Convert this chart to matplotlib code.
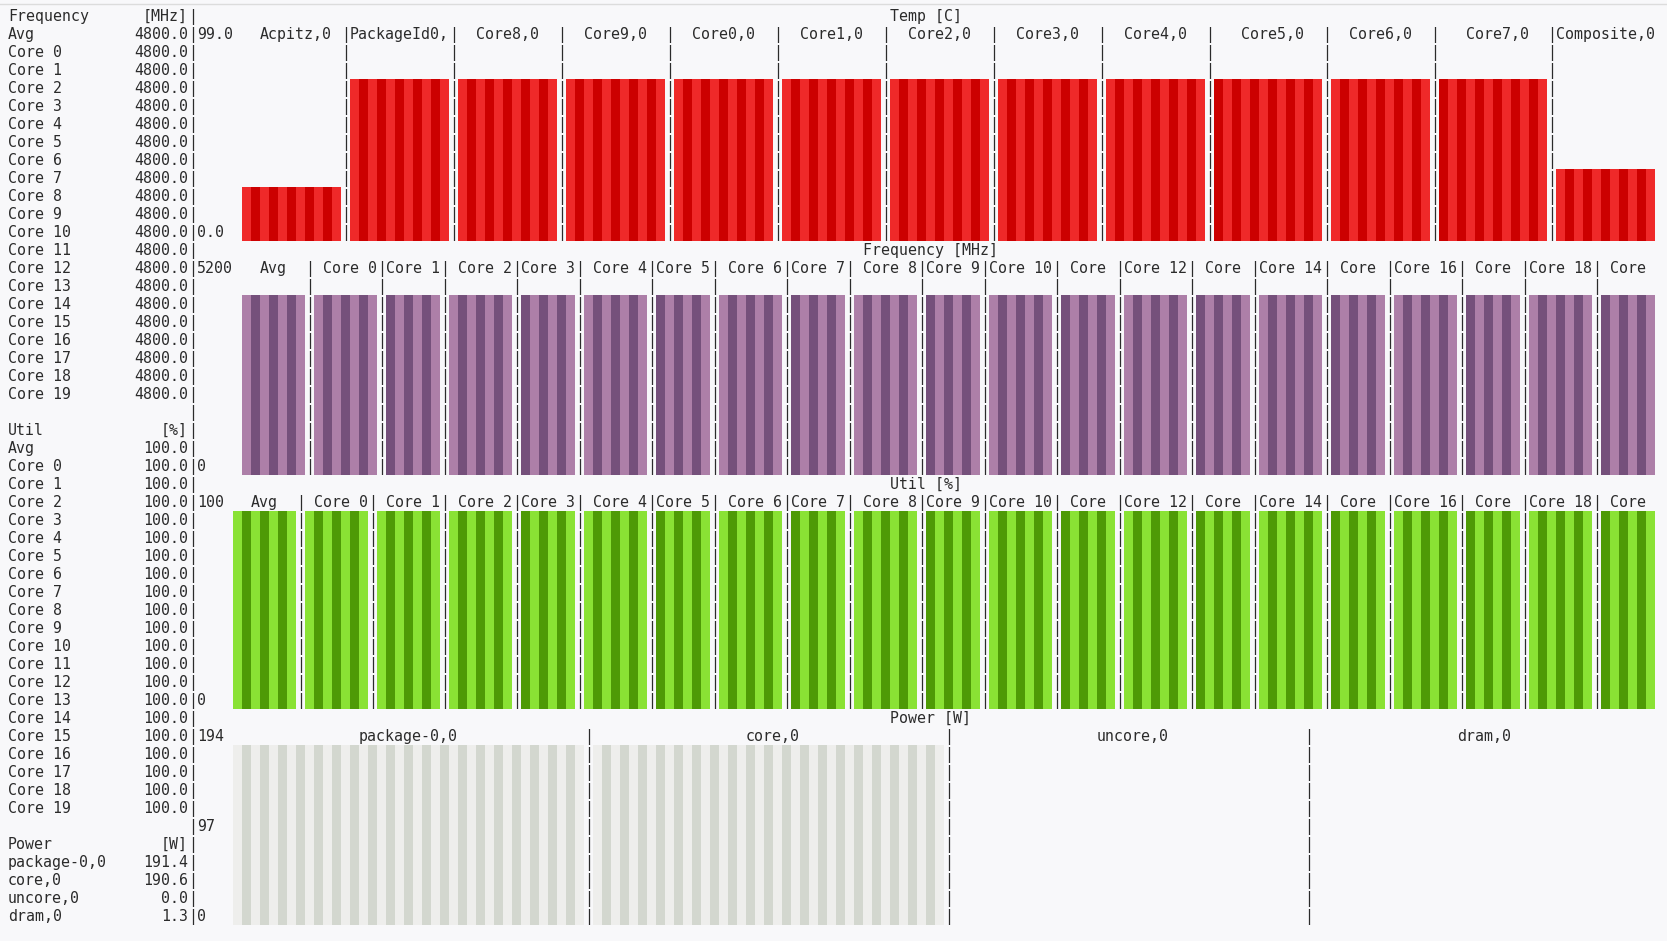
"""s-tui style terminal dashboard (temp / frequency / util / power) redrawn with matplotlib.

The screen is a character grid: 9 px per column, 18 px per row. Everything is
placed in cell coordinates; each bar graph gets its own axes whose y scale runs
from 0 to the graph's maximum.
"""
import math

import matplotlib

matplotlib.use("Agg")
import matplotlib.pyplot as plt
import numpy as np

# ---------------------------------------------------------------- data
TEMP_SENSORS = ["Acpitz,0", "PackageId0,0", "Core8,0", "Core9,0", "Core0,0",
                "Core1,0", "Core2,0", "Core3,0", "Core4,0", "Core5,0",
                "Core6,0", "Core7,0", "Composite,0"]
TEMP_VALUES = [27.0, 81.0, 81.0, 81.0, 81.0, 81.0, 81.0, 81.0, 81.0, 81.0,
               81.0, 81.0, 36.0]
TEMP_MAX = 99.0
TEMP_TICKS = ["99.0", "0.0"]

CPU_LABELS = ["Avg", "Core 0", "Core 1", "Core 2", "Core 3", "Core 4",
              "Core 5", "Core 6", "Core 7", "Core 8", "Core 9", "Core 10",
              "Core 11", "Core 12", "Core 13", "Core 14", "Core 15",
              "Core 16", "Core 17", "Core 18", "Core 19"]
FREQ_VALUES = [4800.0, 4800.0, 4800.0, 4800.0, 4800.0, 4800.0, 4800.0,
               4800.0, 4800.0, 4800.0, 4800.0, 4800.0, 4800.0, 4800.0,
               4800.0, 4800.0, 4800.0, 4800.0, 4800.0, 4800.0, 4800.0]
FREQ_MAX = 5200.0
FREQ_TICKS = ["5200", "0"]

UTIL_VALUES = [100.0, 100.0, 100.0, 100.0, 100.0, 100.0, 100.0, 100.0,
               100.0, 100.0, 100.0, 100.0, 100.0, 100.0, 100.0, 100.0,
               100.0, 100.0, 100.0, 100.0, 100.0]
UTIL_MAX = 100.0
UTIL_TICKS = ["100", "0"]

POWER_LABELS = ["package-0,0", "core,0", "uncore,0", "dram,0"]
POWER_VALUES = [191.4, 190.6, 0.0, 1.3]
POWER_MAX = 194.0
POWER_TICKS = ["194", "97", "0"]

# ---------------------------------------------------------------- layout
W_PX, H_PX = 1667, 941
X0, CW = 8.0, 9.0      # left edge of column 0, column width (px)
Y0, RH = 7.0, 18.0     # top edge of row 0, row height (px)
PANE = 20              # column of the left-pane '|'
GRAPH_W = 162          # graph area: columns 21..182
LAST_COL = 182

# separator columns of each graph (terminal widths are uneven)
TEMP_SEPS = [37, 49, 61, 73, 85, 97, 109, 121, 133, 146, 158, 171]
CPU_SEPS_FREQ = [33, 41, 48, 56, 63, 71, 78, 86, 93, 101, 108, 116, 123,
                 131, 138, 146, 153, 161, 168, 176]
CPU_SEPS_UTIL = [32, 40, 48, 56, 63, 71, 78, 86, 93, 101, 108, 116, 123,
                 131, 138, 146, 153, 161, 168, 176]
POWER_SEPS = [64, 104, 144]

BG = "#f8f8fa"
INK = "#2b2b2b"
RED = ("#ef2929", "#cc0000")
PLUM = ("#ad7fa8", "#75507b")
GREEN = ("#8ae234", "#4e9a06")
ALU = ("#eeeeec", "#d3d7cf")

FONT = dict(family="DejaVu Sans Mono", size=10.76, color=INK)

fig = plt.figure(figsize=(W_PX / 100, H_PX / 100), dpi=100, facecolor=BG)
ax = fig.add_axes([0, 0, 1, 1])
ax.set_xlim(-X0 / CW, (W_PX - X0) / CW)
ax.set_ylim((H_PX - Y0) / RH, -Y0 / RH)
ax.set_facecolor(BG)
ax.axis("off")


def put(col, row, s):
    ax.text(col, row + 14 / RH, s, ha="left", va="baseline", **FONT)


def fit_label(label, width):
    # a terminal label keeps only its first wrapped line
    if len(label) <= width:
        return label
    if " " in label:
        line = ""
        for w in label.split(" "):
            cand = w if not line else line + " " + w
            if len(cand) > width:
                break
            line = cand
        return line
    return label[:width]


def centered(c0, width, s):
    return c0 + math.ceil((width - len(s)) / 2)


def graph(title, title_row, labels, values, vmax, ticks, seps, colors,
          n_rows, mid_tick_row=None):
    label_row = title_row + 1
    last = label_row + n_rows
    put(centered(21, GRAPH_W, title), title_row, title)
    put(21, label_row, ticks[0])
    put(21, last, ticks[-1])
    if mid_tick_row is not None:
        put(21, mid_tick_row, ticks[1])
    start = 21 + len(ticks[0]) + 1
    edges = [start] + [s + 1 for s in seps]
    ends = [s - 1 for s in seps] + [LAST_COL]

    gax = fig.add_axes([0, 1 - (Y0 + RH * (last + 1)) / H_PX,
                        1, RH * n_rows / H_PX])
    gax.set_xlim(ax.get_xlim())
    gax.set_ylim(0, vmax)
    gax.axis("off")
    gax.patch.set_alpha(0)
    for a, b, lab, v in zip(edges, ends, labels, values):
        cols = np.arange(a, b + 1)
        cells = round(v / vmax * n_rows)       # terminal draws whole cells
        h = cells * vmax / n_rows
        cc = [colors[(b - c) % 2] for c in cols]
        gax.bar(cols + 0.5, np.full(len(cols), h), width=1.0, color=cc,
                linewidth=0, antialiased=False)
        txt = fit_label(lab, b - a + 1)
        put(centered(a, b - a + 1, txt), label_row, txt)
    for s in seps:
        for r in range(label_row, last + 1):
            put(s, r, "|")


graph("Temp [C]", 0, TEMP_SENSORS, TEMP_VALUES, TEMP_MAX, TEMP_TICKS,
      TEMP_SEPS, RED, 11)
graph("Frequency [MHz]", 13, CPU_LABELS, FREQ_VALUES, FREQ_MAX, FREQ_TICKS,
      CPU_SEPS_FREQ, PLUM, 11)
graph("Util [%]", 26, CPU_LABELS, UTIL_VALUES, UTIL_MAX, UTIL_TICKS,
      CPU_SEPS_UTIL, GREEN, 11)
graph("Power [W]", 39, POWER_LABELS, POWER_VALUES, POWER_MAX, POWER_TICKS,
      POWER_SEPS, ALU, 10, mid_tick_row=45)

# ---------------------------------------------------------------- left pane
rows = [("Frequency", "[MHz]")]
rows += [(lab, f"{v:.1f}") for lab, v in zip(CPU_LABELS, FREQ_VALUES)]
rows += [("", ""), ("Util", "[%]")]
rows += [(lab, f"{v:.1f}") for lab, v in zip(CPU_LABELS, UTIL_VALUES)]
rows += [("", ""), ("Power", "[W]")]
rows += [(lab, f"{v:.1f}") for lab, v in zip(POWER_LABELS, POWER_VALUES)]
for r, (lab, val) in enumerate(rows):
    if lab:
        put(0, r, lab)
    if val:
        put(PANE - len(val), r, val)
    put(PANE, r, "|")

ax.axhline((4 - Y0) / RH, color="#dcdcdc", lw=1.0)

fig.savefig("out.png", dpi=100, facecolor=BG)
